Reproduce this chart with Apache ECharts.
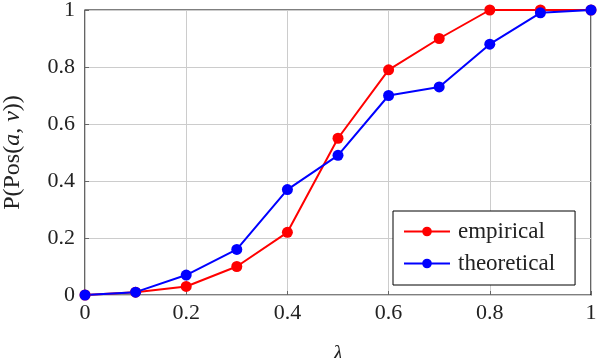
<!DOCTYPE html>
<html>
<head>
<meta charset="utf-8">
<script src="https://cdn.jsdelivr.net/npm/echarts@6/dist/echarts.min.js"></script>
<style>
html, body { margin: 0; padding: 0; background: #fff; }
#chart { width: 598px; height: 358px; }
</style>
</head>
<body>
<div id="chart"></div>
<script>
let lambdas = [0, 0.1, 0.2, 0.3, 0.4, 0.5, 0.6, 0.7, 0.8, 0.9, 1]
let empirical = [0, 0.01, 0.03, 0.10, 0.22, 0.55, 0.79, 0.90, 1.0, 1.0, 1.0]
let theoretical = [0, 0.01, 0.07, 0.16, 0.37, 0.49, 0.70, 0.73, 0.88, 0.99, 1.0]
let serif = '"Liberation Serif", "DejaVu Serif", serif'

let toPairs = (ys) => lambdas.map((x, i) => [x, ys[i]])

let chart = echarts.init(document.getElementById('chart'))
let option = {
	backgroundColor: '#fff',
	animation: false,
	grid: {
		left: 85,
		right: 7,
		top: 10,
		bottom: 63,
		outerBoundsMode: 'none',
		containLabel: false,
		show: true,
		borderColor: '#000',
		borderWidth: 1.2
	},
	legend: {
		orient: 'vertical',
		left: 393,
		top: 211,
		padding: [9, 20, 10, 10],
		itemGap: 9,
		itemWidth: 46,
		itemHeight: 12,
		borderColor: '#000',
		borderWidth: 1,
		backgroundColor: '#fff',
		textStyle: {
			fontFamily: serif,
			fontSize: 23,
			color: '#222',
			padding: [0, 0, 0, 3]
		},
		data: ['empirical', 'theoretical']
	},
	xAxis: {
		type: 'value',
		min: 0,
		max: 1,
		interval: 0.2,
		name: 'λ',
		nameLocation: 'middle',
		nameGap: 48,
		nameTextStyle: {
			fontFamily: serif,
			fontStyle: 'italic',
			fontSize: 22,
			color: '#222'
		},
		axisLine: { show: false },
		axisTick: { show: true, inside: true, length: 4, lineStyle: { color: '#666' } },
		axisLabel: { fontFamily: serif, fontSize: 22, color: '#222', margin: 7 },
		splitLine: { show: true, lineStyle: { color: '#ccc', width: 1 } }
	},
	yAxis: {
		type: 'value',
		min: 0,
		max: 1,
		interval: 0.2,
		name: '{r|P(Pos(}{i|a}{r|, }{i|v}{r|))}',
		nameLocation: 'middle',
		nameRotate: 90,
		nameGap: 60,
		nameTextStyle: {
			rich: {
				r: { fontFamily: serif, fontSize: 24, color: '#222' },
				i: { fontFamily: serif, fontSize: 24, fontStyle: 'italic', color: '#222' }
			}
		},
		axisLine: { show: false },
		axisTick: { show: true, inside: true, length: 4, lineStyle: { color: '#666' } },
		axisLabel: { fontFamily: serif, fontSize: 22, color: '#222', margin: 10 },
		splitLine: { show: true, lineStyle: { color: '#ccc', width: 1 } }
	},
	series: [
		{
			name: 'empirical',
			type: 'line',
			data: toPairs(empirical),
			color: '#ff0000',
			symbol: 'circle',
			symbolSize: 11,
			lineStyle: { width: 2, color: '#ff0000' },
			itemStyle: { color: '#ff0000' }
		},
		{
			name: 'theoretical',
			type: 'line',
			data: toPairs(theoretical),
			color: '#0000ff',
			symbol: 'circle',
			symbolSize: 11,
			lineStyle: { width: 2, color: '#0000ff' },
			itemStyle: { color: '#0000ff' }
		}
	]
}
chart.setOption(option)
</script>
</body>
</html>
